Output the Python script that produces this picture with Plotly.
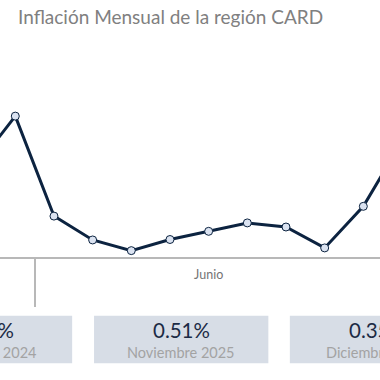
import plotly.graph_objects as go

# ---- data ----
months = ["Diciembre 2024", "Enero 2025", "Febrero 2025", "Marzo 2025", "Abril 2025",
          "Mayo 2025", "Junio 2025", "Julio 2025", "Agosto 2025", "Septiembre 2025",
          "Octubre 2025", "Noviembre 2025", "Diciembre 2025"]
inflation = [0.40, 0.62, 0.18, 0.075, 0.028, 0.077, 0.113, 0.150, 0.132, 0.040,
             0.223, 0.51, 0.35]
axis_label = "Junio"
axis_label_month = "Junio 2025"
break_after = "Enero 2025"      # divider drawn after this month
card_months = ["Diciembre 2024", "Noviembre 2025", "Diciembre 2025"]
title_text = "Inflación Mensual de la región CARD"

W, H = 380, 380
FONT = "Lato"
NAVY = "#0c2340"

x = list(range(len(months)))
first_visible = months.index("Enero 2025")
step = 38.67          # pixels per month
x_range = [first_visible - 15.3 / step, first_visible + (W - 15.3) / step]

fig = go.Figure()
fig.add_trace(go.Scatter(
    x=x, y=inflation, mode="lines+markers",
    line=dict(color=NAVY, width=3),
    marker=dict(size=8, color="#dbe3f1", line=dict(color=NAVY, width=1)),
    hoverinfo="skip", showlegend=False, cliponaxis=True,
))

plot_top = 40
plot_bottom = 257
fig.update_layout(
    width=W, height=H,
    margin=dict(l=0, r=0, t=plot_top, b=H - plot_bottom, pad=0),
    paper_bgcolor="white", plot_bgcolor="white",
    font=dict(family=FONT, color="#666666"),
    xaxis=dict(
        range=x_range,
        showgrid=False, zeroline=False,
        showline=True, linecolor="#b8b8b8", linewidth=2,
        tickmode="array", tickvals=[months.index(axis_label_month)], ticktext=[axis_label],
        ticks="", ticklabelstandoff=5,
        tickfont=dict(size=12.5, color="#747474", family=FONT),
        minor=dict(tickmode="array", tickvals=[months.index(break_after) + 0.5],
                   ticks="outside", ticklen=48, tickwidth=1.5, tickcolor="#b8b8b8"),
        fixedrange=True,
    ),
    yaxis=dict(range=[0, 0.955], visible=False, fixedrange=True),
)


def py(pix):
    # pixel y (from top of figure) -> paper coords of the plot area
    return (plot_bottom - pix) / (plot_bottom - plot_top)


# title
fig.add_annotation(text=title_text, xref="paper", yref="paper",
                   x=16 / W, y=py(17), xanchor="left", yanchor="middle",
                   showarrow=False, font=dict(size=19, color="#808080", family=FONT))

# cards
card_w = 174.3
card_centers = [-15, 181.2, 377]
card_top, card_bot = 315.7, 363.3
for cx, m in zip(card_centers, card_months):
    v = inflation[months.index(m)]
    fig.add_shape(type="rect", xref="paper", yref="paper",
                  x0=(cx - card_w / 2) / W, x1=(cx + card_w / 2) / W,
                  y0=py(card_bot), y1=py(card_top),
                  fillcolor="#d7dde6", line=dict(width=0), layer="below")
    fig.add_annotation(text=f"{v:.2f}%", xref="paper", yref="paper",
                       x=cx / W, y=py(330), xanchor="center", yanchor="middle",
                       showarrow=False, font=dict(size=20.5, color="#1c2b45", family=FONT))
    fig.add_annotation(text=m, xref="paper", yref="paper",
                       x=cx / W, y=py(352.5), xanchor="center", yanchor="middle",
                       showarrow=False, font=dict(size=14.5, color="#a3a3a3", family=FONT))

fig.write_html("out.html", config={"displayModeBar": False},
               post_script="document.body.style.margin='0';")
